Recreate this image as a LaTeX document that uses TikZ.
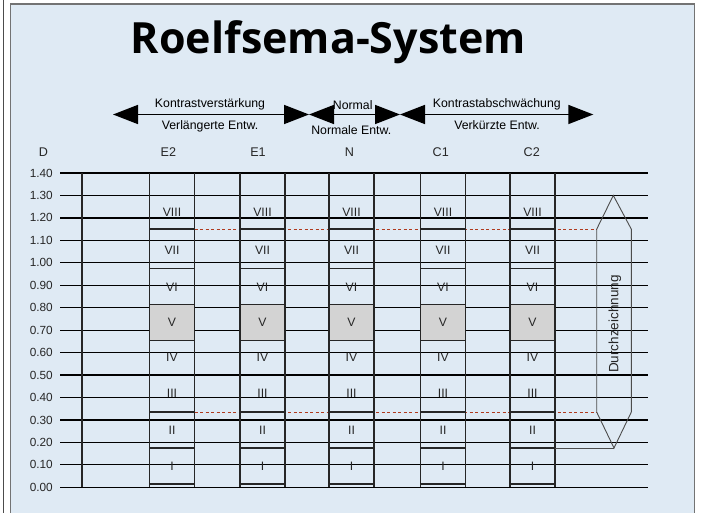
\documentclass[tikz,border=0pt]{standalone}
\usepackage{fontspec}
\setmainfont{Liberation Sans}
\newfontfamily\titlefont{Open Sans}
\usetikzlibrary{arrows.meta}
\definecolor{panel}{HTML}{DFEAF4}
\definecolor{boxgray}{HTML}{D3D3D3}
\definecolor{dashred}{HTML}{B03A1E}
\begin{document}
\begin{tikzpicture}[x=1pt,y=-1pt,
  declare function={Y(\d)=487.3-224.5*\d;},
  gridline/.style={black,line width=1.2pt},
  coledge/.style={black!85,line width=1.5pt},
  segline/.style={black!85,line width=1.4pt},
  numlabel/.style={anchor=east,inner sep=0pt,font=\fontsize{11.8}{13}\selectfont,text=black!85},
  headlabel/.style={inner sep=0pt,font=\fontsize{12.6}{14}\selectfont,text=black!85},
  romanlabel/.style={inner sep=0pt,font=\fontsize{12.2}{14}\selectfont,text=black!85},
  arrowtext/.style={inner sep=0pt,font=\fontsize{12.3}{14}\selectfont},
  bigarrow/.style={line width=1.6pt,{Triangle[length=25pt,width=19pt]}-{Triangle[length=25pt,width=19pt]}},
  hexline/.style={black!70,line width=0.9pt},
  redline/.style={dashred,line width=1pt,dash pattern=on 3pt off 2.5pt}
]
\useasboundingbox (0,0) rectangle (701,513);
\fill[white] (0,0) rectangle (701,513);
\draw[black!70,line width=1pt] (3.3,-2) -- (3.3,515);
\filldraw[fill=panel,draw=black!55,line width=1.3pt] (10.7,4) rectangle (694.3,530);

% title
\node[anchor=base,inner sep=0pt,font=\titlefont\bfseries\fontsize{43}{50}\selectfont] (title) at (328.3,53.3) {Roelfsema-System};

% arrows
\coordinate (a1) at (113,114.5);
\coordinate (a2) at (309,114.5);
\coordinate (a3) at (400,114.5);
\coordinate (a4) at (593.3,114.5);
\draw[bigarrow] (a1) -- (a2);
\draw[bigarrow] (a2) -- (a3);
\draw[bigarrow] (a3) -- (a4);
\node[arrowtext] (t1) at (210,104.5) {Kontrastverstärkung};
\node[arrowtext] (t2) at (210,126) {Verlängerte Entw.};
\node[arrowtext] (t3) at (352.7,105.5) {Normal};
\node[arrowtext] (t4) at (351.3,130) {Normale Entw.};
\node[arrowtext] (t5) at (496.8,104.5) {Kontrastabschwächung};
\node[arrowtext] (t6) at (497,125.5) {Verkürzte Entw.};

% headers
\node[headlabel] (hD) at (43.3,152) {D};
\node[headlabel] (hE2) at (168.3,152) {E2};
\node[headlabel] (hE1) at (258,152) {E1};
\node[headlabel] (hN) at (349.3,152) {N};
\node[headlabel] (hC1) at (440.7,152) {C1};
\node[headlabel] (hC2) at (531.7,152) {C2};

% grid
\foreach \i/\t in {0/0.00,1/0.10,2/0.20,3/0.30,4/0.40,5/0.50,6/0.60,7/0.70,8/0.80,9/0.90,10/1.00,11/1.10,12/1.20,13/1.30,14/1.40}{
  \draw[gridline] (60,{Y(\i/10)}) -- (648,{Y(\i/10)});
  \node[numlabel] (n\i) at (53,{Y(\i/10)}) {\t};
}

% red dashed levels
\draw[redline] (194.5,{Y(1.15)}) -- (596.7,{Y(1.15)});
\draw[redline] (194.5,{Y(0.335)}) -- (596.7,{Y(0.335)});

% left vertical
\draw[coledge] (82,{Y(1.4)}) -- (82,{Y(0)});

% columns
\foreach \x/\n in {149.5/E2,240/E1,329/N,420.5/C1,510/C2}{
  \filldraw[fill=boxgray,draw=black!85,line width=1.4pt] (\x,{Y(0.815)}) rectangle ({\x+45},{Y(0.655)});
  \foreach \d in {1.15,0.975,0.335,0.175,0.015}{
    \draw[segline] (\x,{Y(\d)}) -- ({\x+45},{Y(\d)});
  }
  \draw[coledge] (\x,{Y(1.4)}) -- (\x,{Y(0)});
  \draw[coledge] ({\x+45},{Y(1.4)}) -- ({\x+45},{Y(0)});
  \foreach \r/\m in {VIII/1.225,VII/1.055,VI/0.893,V/0.735,IV/0.578,III/0.42,II/0.255,I/0.095}{
    \node[romanlabel] at ({\x+22.5},{Y(\m)}) {\r};
  }
}

% Durchzeichnung hexagon
\coordinate (h1) at (613.3,{Y(1.30)});
\coordinate (h2) at (631.3,{Y(1.15)});
\coordinate (h3) at (631.3,{Y(0.335)});
\coordinate (h4) at (614,{Y(0.175)});
\coordinate (h5) at (596.7,{Y(0.335)});
\coordinate (h6) at (596.7,{Y(1.15)});
\coordinate (c2r) at (555,{Y(0.175)});
\draw[hexline] (h1) -- (h2) -- (h3) -- (h4) -- (h5) -- (h6) -- cycle;
\draw[hexline] (c2r) -- (h4);
\node[rotate=90,inner sep=0pt,font=\fontsize{13.5}{15}\selectfont,text=black!85] (dz) at (615,324) {Durchzeichnung};
\end{tikzpicture}
\end{document}
